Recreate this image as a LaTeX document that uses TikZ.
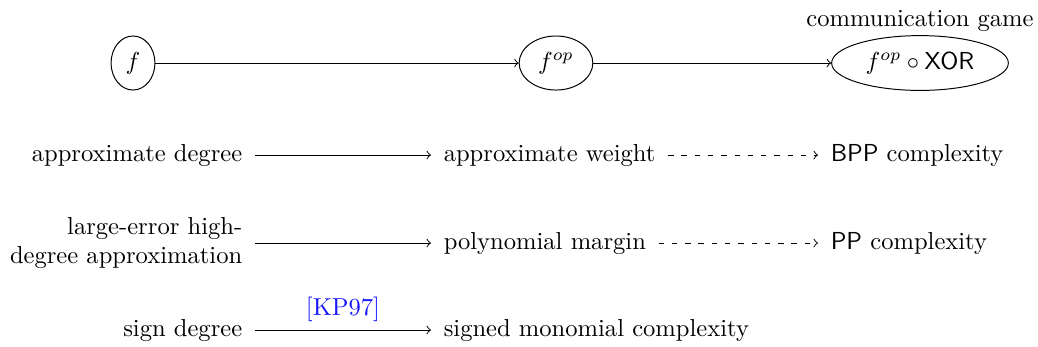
\documentclass[tikz,border=0pt]{standalone}
\usetikzlibrary{positioning,shapes.geometric}
\definecolor{kpblue}{rgb}{0.1,0.1,1}
\begin{document}
\begin{tikzpicture}[x=0.407pt,y=-0.407pt,
  oval/.style={draw, ellipse, inner sep=0.3333em, minimum height=22pt},
  txt/.style={inner sep=5pt, text height=1.5ex, text depth=0.25ex},
  arr/.style={->},
  darr/.style={->, dash pattern=on 2.2pt off 3.2pt}]
\useasboundingbox (0,0) rectangle (1038,346);
% top row
\node[oval] (f) at (133,63) {$f$};
\node[oval] (fop) at (556,63) {$f^{op}$};
\node[oval] (xor) at (920,63) {$f^{op}\circ\textsf{XOR}$};
\node[above=-2pt of xor] (cg) {communication game};
\draw[arr] (f) -- (fop);
\draw[arr] (fop) -- (xor);
% row 2
\node[txt, anchor=east] (ad) at (255,155) {approximate degree};
\node[txt, anchor=west] (aw) at (431,155) {approximate weight};
\node[txt, anchor=west] (bpp) at (818,155) {\textsf{BPP} complexity};
\draw[arr] (ad) -- (aw);
\draw[darr] (aw) -- (bpp);
% row 3
\node[inner sep=5pt, align=right, anchor=east] (le) at (255,243) {large-error high-\\degree approximation};
\node[txt, anchor=west] (pm) at (431,243) {polynomial margin};
\node[txt, anchor=west] (pp) at (818,243) {\textsf{PP} complexity};
\draw[arr] (le) -- (pm);
\draw[darr] (pm) -- (pp);
% row 4
\node[txt, anchor=east] (sd) at (255,330) {sign degree};
\node[txt, anchor=west] (smc) at (431,330) {signed monomial complexity};
\draw[arr] (sd) -- node[above, text=kpblue] (kp) {[KP97]} (smc);
\end{tikzpicture}
\end{document}
